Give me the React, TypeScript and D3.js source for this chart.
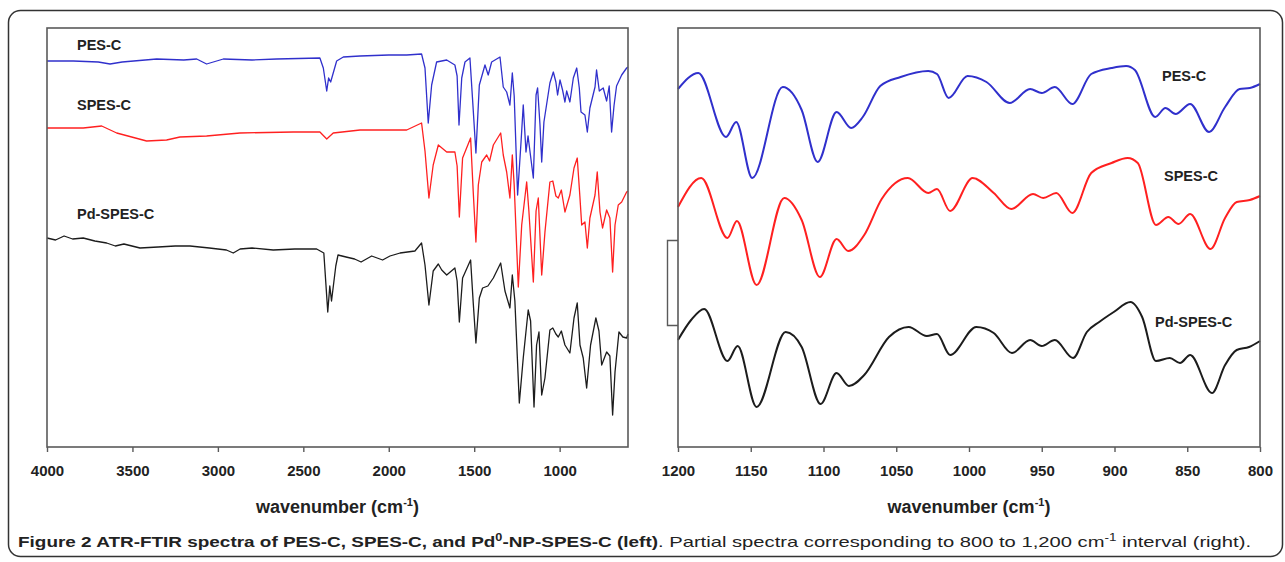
import React, { useEffect, useRef } from 'react';
import * as d3 from 'd3';

// ATR-FTIR spectra, transmittance in arbitrary (offset) units

const width = 1285;
const height = 562;

// left panel, 4000-600 cm-1  [wavenumber, transmittance a.u.]
const pesFull = [
  [4000, 38.5], [3846, 38.5], [3700, 38.4], [3631, 38.2], [3560, 38.4], [3358, 38.7], [3200, 38.6],
  [3124, 38.7], [3066, 38.2], [2968, 38.7], [2800, 38.6], [2656, 38.7], [2403, 38.8], [2383, 37.8],
  [2363, 35.5], [2352, 36.8], [2340, 36.4], [2305, 38.5], [2266, 38.9], [2168, 39.0], [2000, 39.1],
  [1895, 39.1], [1808, 39.2], [1788, 37.8], [1769, 32.3], [1749, 36.1], [1720, 38.4], [1661, 38.6],
  [1613, 38.1], [1600, 37.0], [1589, 32.1], [1573, 36.8], [1554, 38.4], [1525, 38.8], [1509, 34.5],
  [1490, 29.3], [1470, 36.1], [1437, 38.1], [1418, 37.1], [1398, 38.4], [1349, 38.9], [1330, 35.9],
  [1310, 35.4], [1291, 34.1], [1277, 37.3], [1266, 35.0], [1246, 25.1], [1226, 30.4], [1213, 34.1],
  [1197, 29.4], [1185, 31.0], [1154, 26.8], [1138, 35.1], [1129, 35.8], [1115, 32.1], [1105, 28.4],
  [1092, 32.4], [1057, 36.3], [1037, 37.4], [1022, 36.4], [1012, 35.1], [998, 36.6], [983, 35.6],
  [969, 34.4], [959, 35.5], [940, 34.4], [920, 36.8], [900, 37.8], [885, 35.8], [875, 33.4],
  [852, 33.1], [838, 31.4], [823, 33.8], [793, 35.9], [784, 37.6], [768, 35.5], [745, 35.8],
  [725, 34.5], [710, 36.0], [696, 31.4], [682, 34.0], [667, 36.0], [637, 37.1], [608, 37.8], [600, 37.9],
];

const spesFull = [
  [4000, 31.8], [3788, 31.8], [3680, 32.0], [3592, 31.3], [3417, 30.5], [3300, 30.6], [3222, 30.9],
  [3066, 31.0], [2871, 31.3], [2559, 31.4], [2403, 31.4], [2363, 30.7], [2325, 31.3], [2168, 31.6],
  [2000, 31.6], [1895, 31.6], [1808, 32.3], [1788, 29.5], [1765, 24.8], [1740, 28.1], [1710, 30.1],
  [1661, 29.4], [1613, 29.4], [1600, 28.0], [1587, 22.9], [1568, 28.8], [1521, 30.8], [1506, 25.5],
  [1490, 20.4], [1476, 26.1], [1456, 28.4], [1427, 29.1], [1410, 28.5], [1388, 30.1], [1345, 31.3],
  [1330, 29.1], [1310, 27.4], [1291, 24.8], [1277, 29.1], [1266, 26.1], [1242, 15.9], [1222, 22.1],
  [1193, 26.4], [1180, 23.5], [1154, 16.4], [1138, 23.5], [1125, 24.8], [1105, 17.1], [1086, 21.4],
  [1057, 26.4], [1040, 26.5], [1022, 25.0], [1008, 24.8], [990, 25.6], [969, 23.4], [940, 25.1],
  [916, 27.8], [897, 28.8], [881, 24.8], [871, 22.1], [852, 22.4], [838, 19.8], [823, 22.8],
  [793, 25.1], [780, 27.4], [764, 23.4], [749, 21.8], [725, 23.6], [706, 22.8], [690, 17.4],
  [676, 22.1], [657, 24.1], [637, 24.4], [608, 25.4], [600, 25.5],
];

const pdFull = [
  [4000, 20.8], [3950, 20.6], [3900, 21.0], [3850, 20.7], [3788, 20.8], [3720, 20.5], [3651, 20.3],
  [3600, 20.0], [3550, 20.2], [3456, 19.8], [3350, 19.9], [3250, 20.0], [3163, 20.0], [3050, 19.8],
  [2950, 19.6], [2910, 19.3], [2870, 19.7], [2800, 19.8], [2676, 19.6], [2550, 19.7], [2422, 19.7],
  [2380, 19.3], [2357, 13.4], [2345, 16.0], [2335, 14.5], [2310, 18.0], [2297, 19.1], [2250, 18.9],
  [2200, 18.7], [2162, 18.4], [2100, 19.0], [2036, 18.6], [1993, 19.0], [1934, 19.3], [1847, 19.5],
  [1808, 20.3], [1788, 18.1], [1765, 14.1], [1740, 17.5], [1710, 18.2], [1690, 17.6], [1661, 17.1],
  [1613, 17.8], [1600, 16.5], [1587, 12.4], [1568, 16.8], [1521, 18.6], [1506, 14.4], [1490, 10.3],
  [1470, 14.8], [1451, 15.8], [1420, 16.0], [1388, 16.8], [1345, 18.3], [1320, 15.5], [1291, 13.8],
  [1277, 17.1], [1262, 14.5], [1236, 4.3], [1213, 8.8], [1184, 13.6], [1170, 12.5], [1150, 3.9],
  [1135, 10.1], [1121, 11.4], [1105, 5.1], [1086, 6.8], [1057, 11.6], [1040, 11.8], [1022, 11.2],
  [1008, 10.9], [990, 11.5], [969, 10.1], [940, 9.3], [916, 12.8], [897, 14.3], [881, 10.1],
  [862, 8.8], [842, 5.8], [819, 10.1], [788, 12.8], [770, 11.5], [754, 8.1], [725, 9.4],
  [706, 9.0], [690, 3.1], [676, 7.4], [653, 11.4], [630, 10.9], [608, 10.8], [600, 11.2],
];

// right panel, 1200-800 cm-1
const pesZoom = [
  [1200, 35.7], [1186, 37.3], [1167, 30.9], [1160, 32.4], [1149, 26.8], [1128, 35.9], [1115, 33.6],
  [1104, 28.4], [1091, 33.4], [1081, 31.8], [1073, 32.9], [1061, 36.0], [1047, 36.9], [1028, 37.5],
  [1022, 37.2], [1014, 34.8], [1001, 37.0], [988, 36.4], [972, 34.3], [958, 35.7], [950, 35.3],
  [941, 35.9], [929, 34.2], [916, 37.2], [902, 37.8], [892, 38.0], [886, 37.6], [872, 32.9],
  [865, 33.8], [858, 33.2], [848, 34.2], [835, 31.4], [824, 33.9], [814, 35.7], [807, 35.8], [800, 36.2],
];

const spesZoom = [
  [1200, 23.9], [1184, 26.8], [1166, 20.8], [1159.5, 22.5], [1146, 16.1], [1127, 24.8], [1115, 22.6],
  [1102.5, 16.9], [1091, 20.7], [1083, 19.5], [1072, 21.1], [1060, 24.7], [1042, 26.8], [1028, 25.3],
  [1022, 25.7], [1013, 23.5], [997.5, 26.8], [983, 25.3], [971, 23.7], [956, 25.2], [949, 24.8],
  [940, 25.3], [929, 23.3], [916, 27.3], [902, 28.3], [891, 28.8], [884, 28.3], [871.5, 22.1],
  [863, 22.9], [856, 22.2], [848, 23.2], [834, 19.7], [824, 22.8], [816, 24.4], [807, 24.6], [800, 25.0],
];

const pdZoom = [
  [1200, 10.6], [1191, 12.6], [1182, 13.7], [1166, 8.5], [1159, 10.0], [1146, 3.9], [1126, 11.4],
  [1115, 9.9], [1102, 4.2], [1091, 7.3], [1082.5, 6.0], [1072, 7.1], [1055, 10.9], [1041.5, 11.9],
  [1029, 11.0], [1022, 11.2], [1013, 9.1], [995, 11.9], [983, 11.3], [970.5, 9.3], [958, 10.6],
  [950, 10.0], [941, 10.6], [928.5, 8.8], [919, 11.4], [910.5, 12.4], [900.5, 13.4], [889, 14.4],
  [881, 12.9], [871.5, 8.5], [862, 8.8], [855, 8.3], [848, 9.1], [833, 5.3], [824, 8.1],
  [816, 9.6], [807.5, 9.9], [800, 10.5],
];

const seriesNames = ['PES-C', 'SPES-C', 'Pd-SPES-C'];
const seriesColors = ['#3030cc', '#ff2020', '#1c1c1c'];
const fullTicks = [4000, 3500, 3000, 2500, 2000, 1500, 1000];
const zoomTicks = [1200, 1150, 1100, 1050, 1000, 950, 900, 850, 800];

const frameTop = 28;
const frameBottom = 447;
const font = '"Liberation Sans", Arial, sans-serif';

const App = () => {
  const ref = useRef(null);

  useEffect(() => {
    const svg = d3.select(ref.current);
    svg.selectAll('*').remove();

    svg.append('rect')
      .attr('x', 8.5).attr('y', 10.5)
      .attr('width', 1274).attr('height', 546)
      .attr('rx', 12)
      .attr('fill', 'none')
      .attr('stroke', '#333')
      .attr('stroke-width', 1.5);

    const yScale = d3.scaleLinear().domain([-0.1, 41.8]).range([frameBottom, frameTop]);

    const plotPanel = (opts) => {
      const { x0, x1, domain, ticks, series, curve, lineWidth, labels } = opts;
      const xScale = d3.scaleLinear().domain(domain).range([x0, x1]);
      const g = svg.append('g');

      const line = d3.line()
        .x(d => xScale(d[0]))
        .y(d => yScale(d[1]))
        .curve(curve);

      series.forEach((data, i) => {
        g.append('path')
          .datum(data)
          .attr('d', line)
          .attr('fill', 'none')
          .attr('stroke', seriesColors[i])
          .attr('stroke-width', lineWidth)
          .attr('stroke-linejoin', 'round');
      });

      g.append('rect')
        .attr('x', x0).attr('y', frameTop)
        .attr('width', x1 - x0).attr('height', frameBottom - frameTop)
        .attr('fill', 'none')
        .attr('stroke', '#5a5a5a')
        .attr('stroke-width', 1.6);

      const axis = g.append('g')
        .attr('transform', `translate(0, ${frameBottom})`)
        .call(d3.axisBottom(xScale)
          .tickValues(ticks)
          .tickFormat(d3.format('d'))
          .tickSize(5)
          .tickPadding(13)
          .tickSizeOuter(0));
      axis.select('.domain').remove();
      axis.selectAll('line').attr('stroke', '#5a5a5a').attr('stroke-width', 1.4);
      axis.selectAll('text')
        .attr('fill', '#222')
        .attr('font-family', font)
        .attr('font-weight', 'bold')
        .attr('font-size', 15);

      const title = g.append('text')
        .attr('x', (x0 + x1) / 2)
        .attr('y', 513)
        .attr('text-anchor', 'middle')
        .attr('font-family', font)
        .attr('font-weight', 'bold')
        .attr('font-size', 18)
        .attr('fill', '#222');
      title.append('tspan').text('wavenumber (cm');
      title.append('tspan').attr('dy', -7).attr('font-size', 11).text('-1');
      title.append('tspan').attr('dy', 7).text(')');

      labels.forEach((lab, i) => {
        g.append('text')
          .attr('x', lab[0])
          .attr('y', lab[1])
          .attr('font-family', font)
          .attr('font-weight', 'bold')
          .attr('font-size', 14.5)
          .attr('fill', '#222')
          .text(seriesNames[i]);
      });
    };

    plotPanel({
      x0: 47, x1: 628,
      domain: [4000, 600],
      ticks: fullTicks,
      series: [pesFull, spesFull, pdFull],
      curve: d3.curveLinear,
      lineWidth: 1.3,
      labels: [[77, 50], [77, 110], [77, 219]],
    });

    plotPanel({
      x0: 678, x1: 1260,
      domain: [1200, 800],
      ticks: zoomTicks,
      series: [pesZoom, spesZoom, pdZoom],
      curve: d3.curveMonotoneX,
      lineWidth: 2,
      labels: [[1162, 81], [1164, 181], [1155, 327]],
    });

    // leftover bracket beside the right frame
    svg.append('path')
      .attr('d', 'M678,240.5H667.5V325.5H678')
      .attr('fill', 'none')
      .attr('stroke', '#5a5a5a')
      .attr('stroke-width', 1.4);

    // caption
    const bold = svg.append('text')
      .attr('x', 18).attr('y', 547)
      .attr('font-family', font)
      .attr('font-weight', 'bold')
      .attr('font-size', 15)
      .attr('fill', '#222')
      .attr('textLength', 640)
      .attr('lengthAdjust', 'spacingAndGlyphs');
    bold.append('tspan').text('Figure 2 ATR-FTIR spectra of PES-C, SPES-C, and Pd');
    bold.append('tspan').attr('dy', -6).attr('font-size', 10).text('0');
    bold.append('tspan').attr('dy', 6).text('-NP-SPES-C (left)');

    const normal = svg.append('text')
      .attr('x', 658).attr('y', 547)
      .attr('font-family', font)
      .attr('font-size', 15)
      .attr('fill', '#222')
      .attr('textLength', 593)
      .attr('lengthAdjust', 'spacingAndGlyphs');
    normal.append('tspan').text('. Partial spectra corresponding to 800 to 1,200 cm');
    normal.append('tspan').attr('dy', -6).attr('font-size', 10).text('-1');
    normal.append('tspan').attr('dy', 6).text(' interval (right).');
  }, []);

  return (
    <div style={{ position: 'absolute', left: 0, top: 0, background: '#fff' }}>
      <svg ref={ref} width={width} height={height} viewBox={`0 0 ${width} ${height}`} />
    </div>
  );
};

export default App;
